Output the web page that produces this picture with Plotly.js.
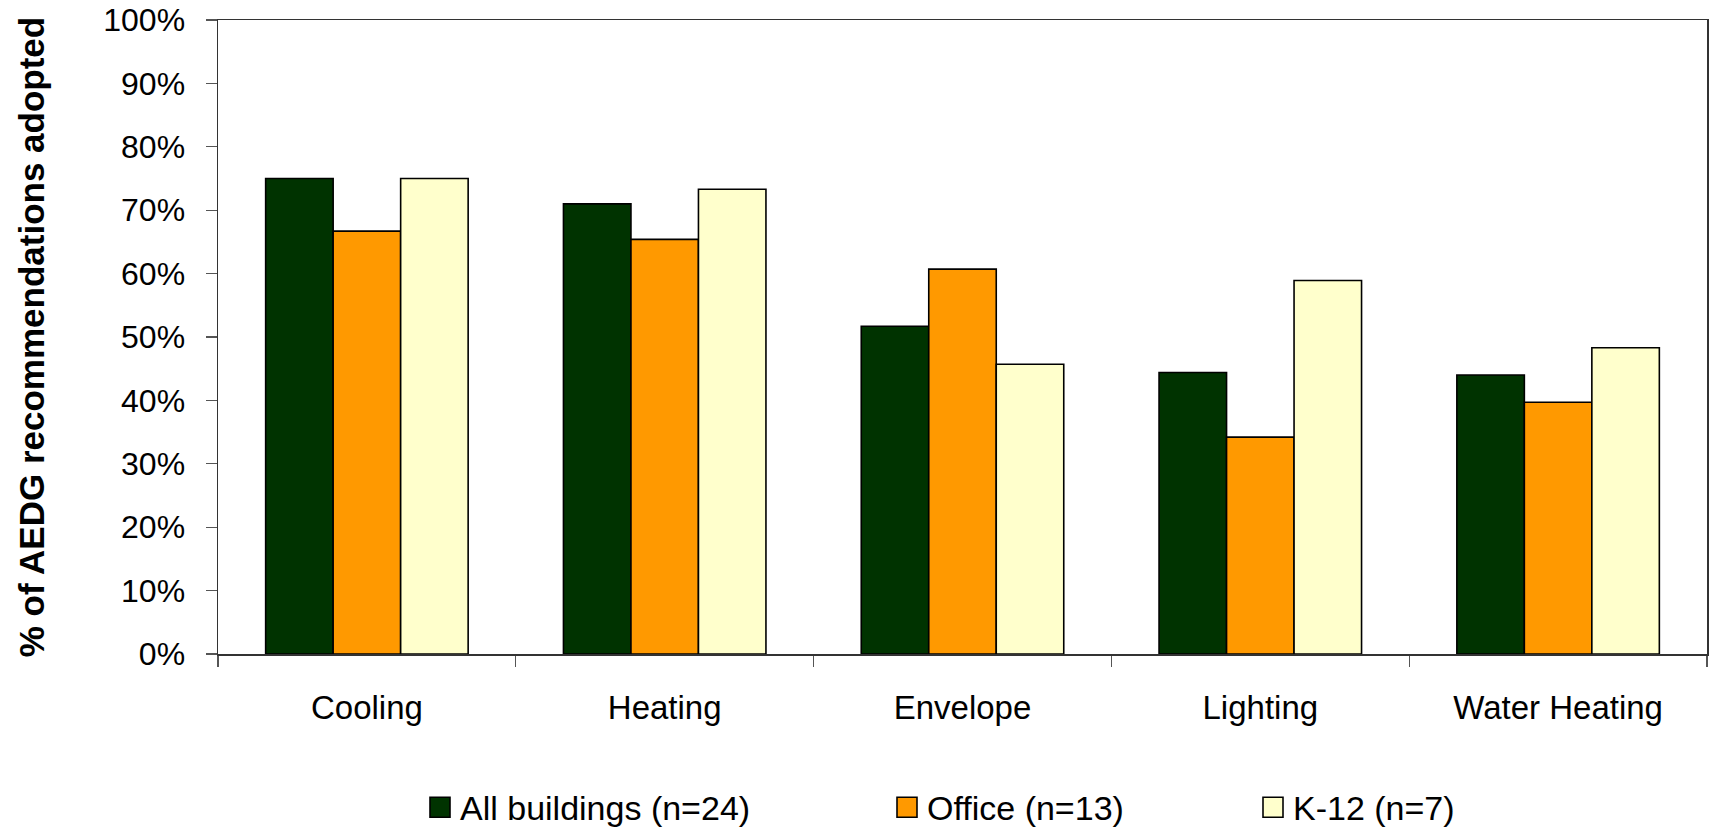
<!DOCTYPE html>
<html>
<head>
<meta charset="utf-8">
<script src="https://cdn.plot.ly/plotly-3.0.1.min.js"></script>
<style>html,body{margin:0;padding:0;background:#fff;}#chart{width:1711px;height:830px;}</style>
</head>
<body>
<div id="chart"></div>
<script>
const categories = ["Cooling", "Heating", "Envelope", "Lighting", "Water Heating"];
const seriesNames = ["All buildings (n=24)", "Office (n=13)", "K-12 (n=7)"];
const allBuildings = [0.75, 0.71, 0.517, 0.444, 0.44];
const office = [0.667, 0.654, 0.607, 0.342, 0.397];
const k12 = [0.75, 0.733, 0.457, 0.589, 0.483];
const yTickVals = [0, 0.1, 0.2, 0.3, 0.4, 0.5, 0.6, 0.7, 0.8, 0.9, 1.0];
const yTickText = ["0%", "10%", "20%", "30%", "40%", "50%", "60%", "70%", "80%", "90%", "100%"];
const yTitle = "% of AEDG recommendations adopted";

const colors = ["#003300", "#FF9900", "#FFFFCC"];
const values = [allBuildings, office, k12];
const legendIds = ["legend", "legend2", "legend3"];
const font = "Liberation Sans, Arial, sans-serif";

const traces = values.map((v, i) => ({
  type: "bar",
  name: seriesNames[i],
  x: categories,
  y: v,
  legend: legendIds[i],
  marker: {color: colors[i], line: {color: "#000000", width: 1.6}},
  hoverinfo: "x+y+name"
}));

const legendBase = {
  orientation: "h",
  xref: "container", yref: "container",
  xanchor: "left", yanchor: "middle",
  y: 0.027,
  font: {family: font, size: 34, color: "#000"},
  bgcolor: "rgba(0,0,0,0)",
  borderwidth: 0
};

const layout = {
  width: 1711, height: 830,
  margin: {l: 218, r: 4, t: 20, b: 176},
  paper_bgcolor: "#ffffff",
  plot_bgcolor: "#ffffff",
  font: {family: font, color: "#000"},
  barmode: "group",
  bargap: 0.32,
  bargroupgap: 0,
  showlegend: true,
  legend: Object.assign({}, legendBase, {x: 420 / 1711}),
  legend2: Object.assign({}, legendBase, {x: 887 / 1711}),
  legend3: Object.assign({}, legendBase, {x: 1253 / 1711}),
  xaxis: {
    type: "category",
    showgrid: false,
    zeroline: false,
    showline: true,
    linecolor: "#333",
    linewidth: 1.5,
    mirror: true,
    ticks: "outside",
    tickson: "boundaries",
    ticklen: 11,
    tickwidth: 1.2,
    tickcolor: "#555",
    ticklabelstandoff: 24,
    tickfont: {family: font, size: 33, color: "#000"}
  },
  yaxis: {
    range: [0, 1],
    tickvals: yTickVals,
    ticktext: yTickText,
    showgrid: false,
    zeroline: false,
    showline: true,
    linecolor: "#333",
    linewidth: 1.5,
    mirror: true,
    ticks: "outside",
    ticklen: 11,
    tickwidth: 1.2,
    tickcolor: "#555",
    ticklabelstandoff: 14,
    tickfont: {family: font, size: 32, color: "#000"},
    title: {text: yTitle, font: {family: font, size: 35, color: "#000", weight: "bold"}, standoff: 48}
  }
};

Plotly.newPlot("chart", traces, layout, {displayModeBar: false, staticPlot: true}).then(gd => {
  // enlarge the legend swatches to match the reference's larger squares
  gd.querySelectorAll(".legendpoints path").forEach(p => {
    p.setAttribute("d", "M10,10H-10V-10H10Z");
  });
});
</script>
</body>
</html>
